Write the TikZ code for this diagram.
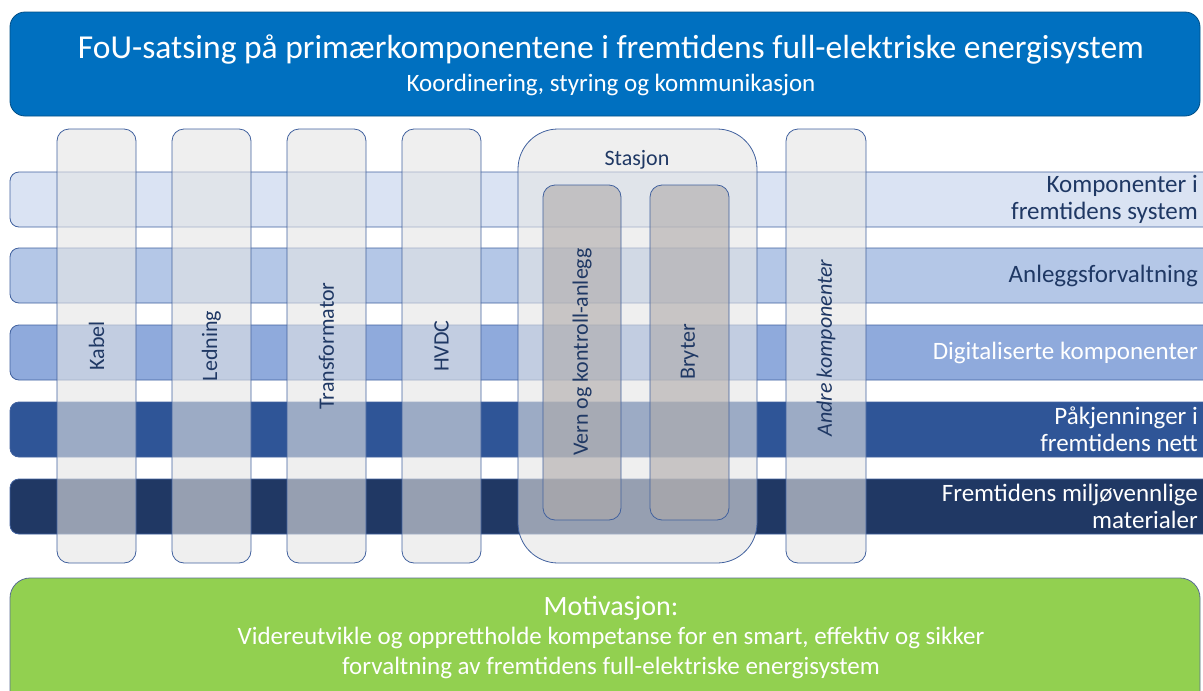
\documentclass[tikz,border=0pt]{standalone}
\usepackage{fontspec}
\setmainfont{Carlito}
\usetikzlibrary{positioning}
\definecolor{topblue}{HTML}{0070C0}
\definecolor{bandA}{HTML}{DAE3F3}
\definecolor{bandB}{HTML}{B4C7E7}
\definecolor{bandC}{HTML}{8FAADC}
\definecolor{bandD}{HTML}{2F5597}
\definecolor{bandE}{HTML}{203864}
\definecolor{edge}{HTML}{41619E}
\definecolor{navy}{HTML}{1F3864}
\definecolor{motgreen}{HTML}{92D050}
\definecolor{pillargray}{HTML}{E5E5E5}
\definecolor{innergray}{HTML}{AEAAAA}

\begin{document}
\begin{tikzpicture}[x=1pt, y=-1pt, line join=round,
  band/.style={draw=edge, line width=0.8pt, rounded corners=9pt},
  pillar/.style={draw=edge, line width=0.8pt, fill=pillargray, fill opacity=0.6, rounded corners=12pt},
  inner/.style={draw=edge, line width=0.8pt, fill=innergray, fill opacity=0.6, rounded corners=12pt},
  collabel/.style={rotate=90, text=navy, font=\fontsize{22}{26}\selectfont},
  bandlabel/.style={anchor=east, align=right, inner sep=0pt, font=\fontsize{25}{27}\selectfont}]
\useasboundingbox (0,0) rectangle (1203,691);
\clip (0,0) rectangle (1203,691);

% header
\draw[fill=topblue, draw=topblue!70!black, line width=0.8pt, rounded corners=15pt] (10,12) rectangle (1200,116);
\node[text=white, font=\fontsize{33.5}{38}\selectfont] (title) at (611,50) {FoU-satsing på primærkomponentene i fremtidens full-elektriske energisystem};
\node[text=white, font=\fontsize{25}{28}\selectfont] (subtitle) at (611,85) {Koordinering, styring og kommunikasjon};

% horizontal themes
\draw[band, fill=bandA] (10,172) rectangle (1220,227);
\draw[band, fill=bandB] (10,248) rectangle (1220,303);
\draw[band, fill=bandC] (10,325) rectangle (1220,380);
\draw[band, fill=bandD] (10,402) rectangle (1220,457);
\draw[band, fill=bandE] (10,479) rectangle (1220,534);

\node[bandlabel, text=navy] (system) at (1198,199.5) {Komponenter i\\fremtidens system};
\node[bandlabel, text=navy] (forvaltning) at (1198,275.5) {Anleggsforvaltning};
\node[bandlabel, text=white] (digital) at (1198,352.5) {Digitaliserte komponenter};
\node[bandlabel, text=white] (nett) at (1198,429.5) {Påkjenninger i\\fremtidens nett};
\node[bandlabel, text=white] (materialer) at (1198,506.5) {Fremtidens miljøvennlige\\materialer};

% vertical components
\foreach \x/\name in {57/Kabel, 172/Ledning, 287/Transformator, 402/HVDC} {
  \draw[pillar] (\x,129) rectangle ++(79,434);
  \node[collabel] (col-\name) at (\x+39.5,346) {\name};
}
\draw[pillar] (786,129) rectangle (866,563);
\node[collabel, font=\fontsize{22}{26}\selectfont\itshape] (andre) at (826,348) {Andre komponenter};

% station with its parts
\draw[pillar, rounded corners=40pt] (518,129) rectangle (757,563);
\node[text=navy, font=\fontsize{22}{26}\selectfont] (stasjon) at (637,160) {Stasjon};
\draw[inner] (543,185) rectangle (621,520);
\draw[inner] (650,185) rectangle (729,520);
\node[collabel] (vern) at (582,352) {Vern og kontroll-anlegg};
\node[collabel] (bryter) at (689.5,352) {Bryter};

% motivation
\draw[fill=motgreen, draw=edge!60!gray, line width=0.8pt, rounded corners=20pt] (10,578) rectangle (1200,720);
\node[text=white, font=\fontsize{28}{32}\selectfont] (motiv) at (611,608) {Motivasjon:};
\node[text=white, align=center, font=\fontsize{25}{30}\selectfont] (motivtxt) at (611,653) {Videreutvikle og opprettholde kompetanse for en smart, effektiv og sikker\\forvaltning av fremtidens full-elektriske energisystem};
\end{tikzpicture}
\end{document}
